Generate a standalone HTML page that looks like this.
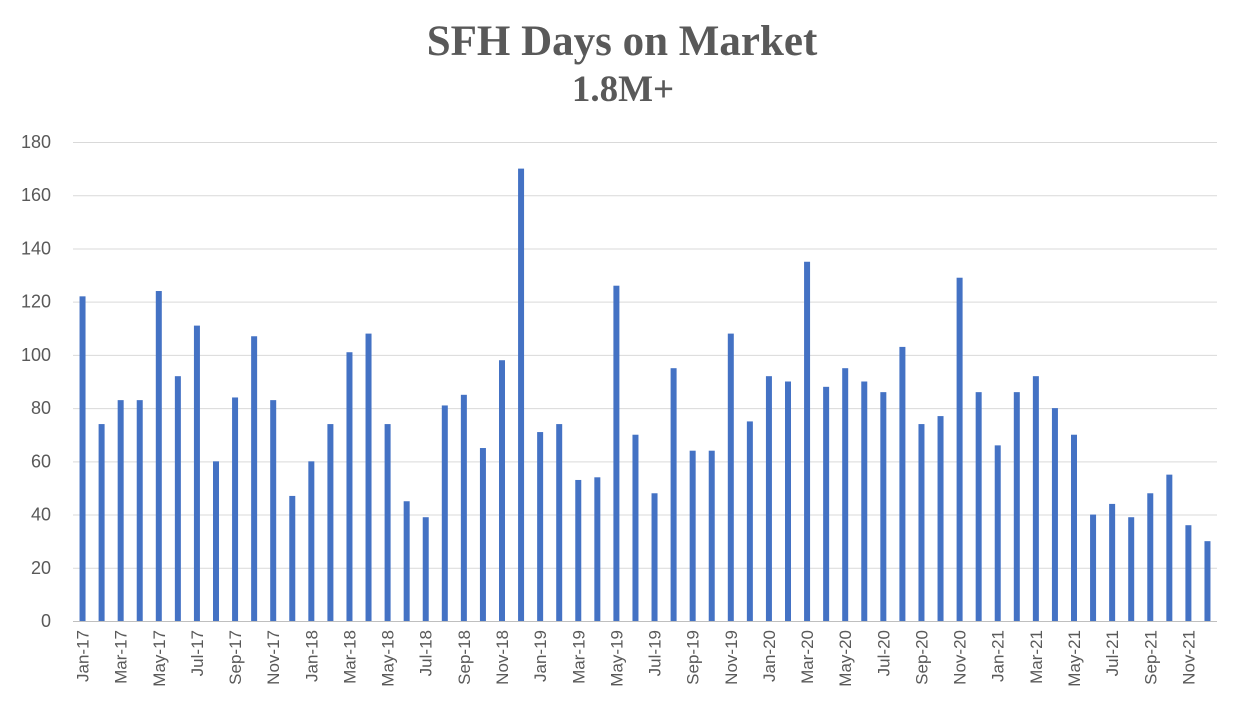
<!DOCTYPE html>
<html><head><meta charset="utf-8"><style>
html,body{margin:0;padding:0;background:#fff;}
svg{display:block;}
</style></head><body>
<svg width="1240" height="726" xmlns="http://www.w3.org/2000/svg" font-family="Liberation Sans, sans-serif">
<rect width="1240" height="726" fill="#fff"/>
<text x="622" y="55" text-anchor="middle" font-family="Liberation Serif, serif" font-weight="bold" font-size="43" fill="#595959">SFH Days on Market</text>
<text x="623" y="101" text-anchor="middle" font-family="Liberation Serif, serif" font-weight="bold" font-size="37" fill="#595959">1.8M+</text>
<g id="grid" stroke="#d9d9d9" stroke-width="1"></g>
<g id="ylab" font-size="18" fill="#595959" text-anchor="end"></g>
<g id="bars" fill="#4472c4"></g>
<g id="xlab" font-size="17" fill="#595959"></g>
<line x1="73" y1="621.5" x2="1217" y2="621.5" stroke="#bfbfbf"/>
<script>
var ns="http://www.w3.org/2000/svg";
function el(t,a,p,txt){var e=document.createElementNS(ns,t);for(var k in a)e.setAttribute(k,a[k]);if(txt!=null)e.textContent=txt;document.getElementById(p).appendChild(e);}
var y0=621,ppu=(621-142)/180;
for(var v=0;v<=180;v+=20){var y=y0-v*ppu;if(v>0)el('line',{x1:73,x2:1217,y1:y+0.5,y2:y+0.5},'grid');el('text',{x:51,y:y+6},'ylab',v);}
var d=[122,74,83,83,124,92,111,60,84,107,83,47,60,74,101,108,74,45,39,81,85,65,98,170,71,74,53,54,126,70,48,95,64,64,108,75,92,90,135,88,95,90,86,103,74,77,129,86,66,86,92,80,70,40,44,39,48,55,36,30];
var m=['Jan','Mar','May','Jul','Sep','Nov'];
var w=(1217-73)/60;
for(var i=0;i<60;i++){var cx=73+w*(i+0.5);el('rect',{x:cx-3,y:y0-d[i]*ppu,width:6,height:d[i]*ppu},'bars');
if(i%2==0){var yr=17+Math.floor(i/12);var lab=m[(i%12)/2]+'-'+yr;el('text',{x:0,y:0,'text-anchor':'end',transform:'translate('+(cx+6)+',630) rotate(-90)'},'xlab',lab);}}
</script>
</svg>
</body></html>
